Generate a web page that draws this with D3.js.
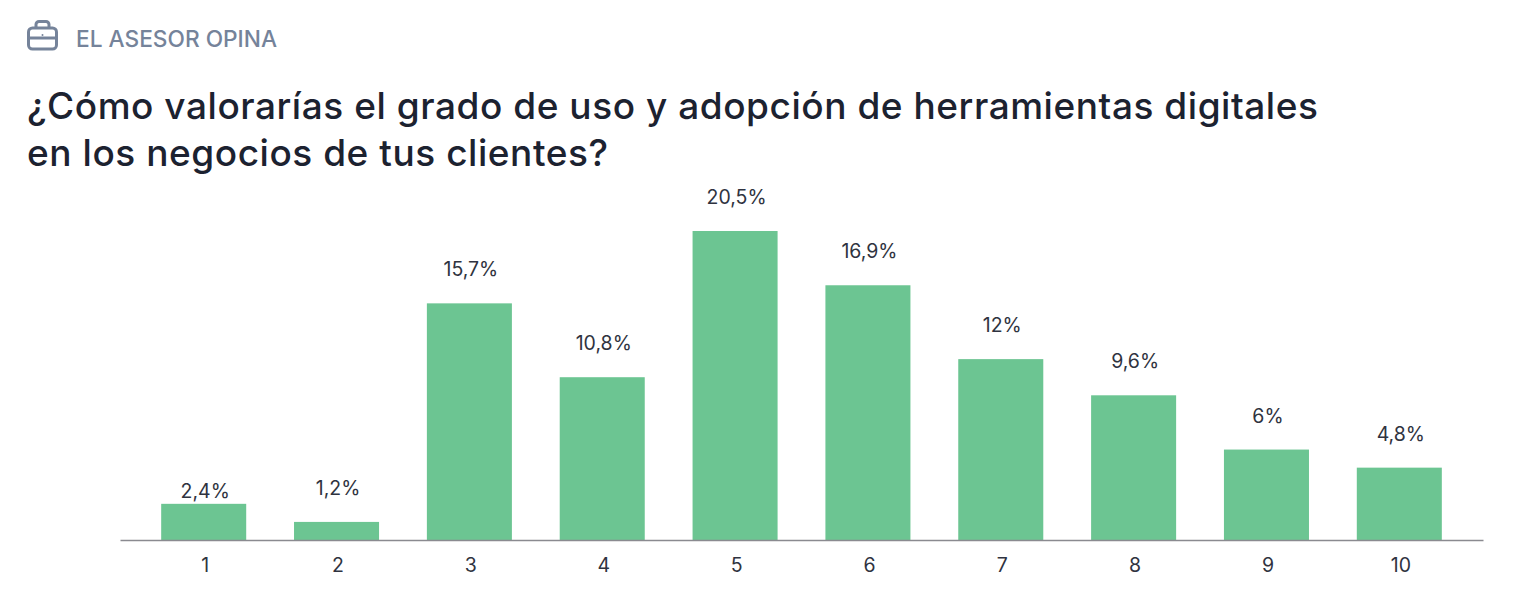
<!DOCTYPE html>
<html>
<head>
<meta charset="utf-8">
<script src="https://cdn.jsdelivr.net/npm/d3@7"></script>
<style>
  html, body { margin: 0; background: #fff; }
  svg { display: block; }
  .title { font-family: Inter, sans-serif; font-size: 37px; font-weight: 500; letter-spacing: 0.55px; fill: #1c2230; }
  .kicker { font-family: Inter, sans-serif; font-size: 22.7px; font-weight: 500; fill: #75839a; }
  .lbl { font-family: Inter, sans-serif; font-size: 19.5px; fill: #2f3340; }
</style>
</head>
<body>
<div id="chart"></div>
<script>
const categories = ["1", "2", "3", "4", "5", "6", "7", "8", "9", "10"];
const values = [2.4, 1.2, 15.7, 10.8, 20.5, 16.9, 12, 9.6, 6, 4.8];
const valueLabels = ["2,4%", "1,2%", "15,7%", "10,8%", "20,5%", "16,9%", "12%", "9,6%", "6%", "4,8%"];
const titleLines = [
  "¿Cómo valorarías el grado de uso y adopción de herramientas digitales",
  "en los negocios de tus clientes?"
];

const width = 1520, height = 592;
const baseline = 540;

const svg = d3.select("#chart")
  .append("svg")
  .attr("width", width)
  .attr("height", height);

// header icon (briefcase)
const icon = svg.append("g")
  .attr("transform", "translate(27, 20)")
  .attr("fill", "none")
  .attr("stroke", "#75839a")
  .attr("stroke-width", 3);
icon.append("rect").attr("x", 1.5).attr("y", 8).attr("width", 28).attr("height", 21).attr("rx", 4);
icon.append("path").attr("d", "M9 8V4.5a3 3 0 0 1 3-3h7a3 3 0 0 1 3 3V8");
icon.append("path").attr("d", "M1.5 18H29.5");
icon.append("circle").attr("cx", 15.5).attr("cy", 15).attr("r", 1).attr("fill", "#75839a").attr("stroke", "none");

svg.append("text")
  .attr("class", "kicker")
  .attr("x", 76)
  .attr("y", 47)
  .text("EL ASESOR OPINA");

svg.selectAll("text.title")
  .data(titleLines)
  .enter()
  .append("text")
  .attr("class", "title")
  .attr("x", 27)
  .attr("y", (d, i) => 119 + i * 47)
  .text(d => d);

const x = d3.scaleBand()
  .domain(categories)
  .range([120, 1483])
  .paddingInner(0.36)
  .paddingOuter(0.31);

const y = d3.scaleLinear()
  .domain([0, 20.5])
  .range([baseline, 231]);

const data = categories.map((c, i) => ({ c, v: values[i], label: valueLabels[i] }));

svg.selectAll("rect.bar")
  .data(data)
  .enter()
  .append("rect")
  .attr("class", "bar")
  .attr("x", d => x(d.c))
  .attr("y", d => y(d.v))
  .attr("width", x.bandwidth())
  .attr("height", d => baseline - y(d.v))
  .attr("fill", "#6cc592");

svg.selectAll("text.val")
  .data(data)
  .enter()
  .append("text")
  .attr("class", "lbl val")
  .attr("text-anchor", "middle")
  .attr("x", d => x(d.c) + x.bandwidth() / 2 + 1.5)
  // the smallest bar keeps its label closer to the bar
  .attr("y", d => d.v === 2.4 ? y(d.v) - 6 : y(d.v) - 27)
  .text(d => d.label);

const axis = svg.append("g")
  .attr("transform", `translate(0, ${baseline})`)
  .call(d3.axisBottom(x).tickSize(0).tickPadding(18));
axis.select(".domain").attr("stroke", "#8a8a90").attr("stroke-width", 1.5);
axis.selectAll("text")
  .attr("class", "lbl")
  .attr("font-family", null)
  .attr("font-size", null)
  .attr("dx", 1.5)
  .attr("fill", null);
</script>
</body>
</html>
